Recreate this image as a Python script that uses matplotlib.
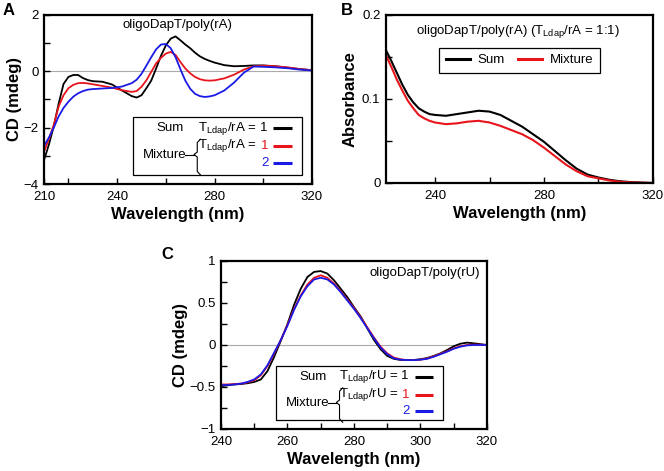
import matplotlib
matplotlib.use('Agg')
import matplotlib.pyplot as plt
import numpy as np
from matplotlib.ticker import FuncFormatter

plt.rcParams['font.family'] = ['Liberation Sans', 'DejaVu Sans']
plt.rcParams['mathtext.fontset'] = 'custom'
plt.rcParams['mathtext.rm'] = 'Liberation Sans'

# ---- panel A: CD, oligoDapT/poly(rA)
wl_a = [210, 212, 214, 216, 218, 220, 222, 224, 226, 228, 230, 234, 238, 242, 246, 248,
        250, 252, 254, 256, 258, 260, 262, 264, 266, 268, 270, 272, 274, 276, 278, 280,
        284, 288, 292, 296, 300, 305, 310, 315, 320]
a_sum = [-3.15, -2.6, -1.95, -1.15, -0.45, -0.2, -0.13, -0.13, -0.24, -0.31, -0.35, -0.37,
         -0.47, -0.68, -0.88, -0.93, -0.85, -0.6, -0.33, 0.1, 0.55, 0.92, 1.16, 1.24, 1.1,
         0.95, 0.82, 0.66, 0.53, 0.44, 0.37, 0.31, 0.22, 0.18, 0.19, 0.21, 0.21, 0.18, 0.13,
         0.08, 0.04]
a_mix1 = [-2.85, -2.4, -1.9, -1.25, -0.85, -0.6, -0.48, -0.42, -0.41, -0.43, -0.46, -0.52,
          -0.58, -0.67, -0.73, -0.7, -0.55, -0.32, -0.02, 0.28, 0.48, 0.63, 0.69, 0.58, 0.33,
          0.1, -0.07, -0.2, -0.28, -0.32, -0.33, -0.32, -0.25, -0.12, 0.06, 0.18, 0.2, 0.18,
          0.14, 0.08, 0.04]
a_mix2 = [-2.65, -2.35, -2.0, -1.6, -1.3, -1.08, -0.9, -0.78, -0.7, -0.65, -0.63, -0.61,
          -0.59, -0.54, -0.42, -0.3, -0.09, 0.2, 0.5, 0.78, 0.95, 0.97, 0.82, 0.5, 0.07,
          -0.33, -0.62, -0.8, -0.88, -0.91, -0.89, -0.85, -0.68, -0.4, -0.05, 0.17, 0.16,
          0.14, 0.11, 0.06, 0.03]

# ---- panel B: absorbance
wl_b = [222, 224, 226, 228, 230, 232, 234, 236, 238, 240, 244, 248, 252, 256, 260, 264,
        268, 272, 276, 280, 284, 288, 292, 296, 300, 304, 308, 312, 316, 320]
b_sum = [0.158, 0.145, 0.131, 0.117, 0.105, 0.096, 0.089, 0.085, 0.082, 0.081, 0.080,
         0.082, 0.084, 0.086, 0.085, 0.081, 0.074, 0.067, 0.058, 0.049, 0.038, 0.027,
         0.017, 0.010, 0.0065, 0.0038, 0.002, 0.001, 0.0004, 0.0]
b_mix = [0.152, 0.138, 0.123, 0.110, 0.098, 0.089, 0.081, 0.077, 0.074, 0.072, 0.070,
         0.071, 0.073, 0.074, 0.072, 0.068, 0.063, 0.058, 0.051, 0.042, 0.032, 0.022,
         0.014, 0.008, 0.0055, 0.003, 0.0015, 0.0008, 0.0003, 0.0]

# ---- panel C: CD, oligoDapT/poly(rU)
wl_c = list(range(240, 322, 2))
c_sum = [-0.49, -0.48, -0.47, -0.465, -0.455, -0.44, -0.41, -0.31, -0.14, 0.05, 0.25, 0.48,
         0.67, 0.81, 0.87, 0.88, 0.85, 0.77, 0.67, 0.57, 0.45, 0.34, 0.2, 0.06, -0.05, -0.13,
         -0.165, -0.178, -0.18, -0.178, -0.17, -0.155, -0.13, -0.1, -0.06, -0.015, 0.015,
         0.028, 0.02, 0.01, 0.0]
c_mix1 = [-0.47, -0.47, -0.465, -0.46, -0.445, -0.42, -0.36, -0.25, -0.1, 0.06, 0.24, 0.43,
          0.59, 0.72, 0.8, 0.83, 0.8, 0.73, 0.64, 0.54, 0.44, 0.33, 0.21, 0.09, -0.02, -0.1,
          -0.15, -0.17, -0.18, -0.18, -0.175, -0.16, -0.135, -0.105, -0.075, -0.04, -0.015,
          0.0, 0.005, 0.003, 0.0]
c_mix2 = [-0.48, -0.475, -0.47, -0.46, -0.44, -0.41, -0.35, -0.24, -0.09, 0.06, 0.23, 0.42,
          0.58, 0.7, 0.78, 0.8, 0.78, 0.72, 0.63, 0.53, 0.43, 0.32, 0.2, 0.08, -0.03, -0.11,
          -0.16, -0.175, -0.18, -0.18, -0.175, -0.165, -0.14, -0.11, -0.08, -0.045, -0.02,
          -0.005, 0.0, 0.0, 0.0]

RED = '#e8141c'
BLUE = '#1a1ae6'
TS = 9.5   # tick / text size
LS = 12    # axis label size


def minus(v, pos):
    return ('%g' % v).replace('-', '\u2212')


def style(ax, xlim, ylim, xmaj, xmin, ymaj, ymin):
    ax.set_xlim(*xlim)
    ax.set_ylim(*ylim)
    ax.set_xticks(xmaj)
    ax.set_xticks(xmin, minor=True)
    ax.set_yticks(ymaj)
    ax.set_yticks(ymin, minor=True)
    ax.yaxis.set_major_formatter(FuncFormatter(minus))
    ax.tick_params(which='both', direction='in', labelsize=TS, width=1)
    ax.tick_params(axis='x', pad=5)
    ax.tick_params(axis='y', pad=4)
    ax.tick_params(which='both', length=4)
    for s in ax.spines.values():
        s.set_linewidth(1.6)
    ax.set_xlabel('Wavelength (nm)', fontsize=LS, fontweight='bold', labelpad=3)


def cd_legend(ax, box, rows, lbl):
    # box: x0, y0, x1, y1 in axes fraction; rows: y positions of the 3 rows
    x0, y0, x1, y1 = box
    ax.add_patch(plt.Rectangle((x0, y0), x1 - x0, y1 - y0, transform=ax.transAxes,
                               fill=True, facecolor='white', edgecolor='black', lw=0.9, zorder=5))
    r1, r2, r3 = rows
    xt = x0 + 0.80 * (x1 - x0)   # right edge of row text
    xl0, xl1 = x0 + 0.83 * (x1 - x0), x0 + 0.94 * (x1 - x0)
    kw = dict(xycoords='axes fraction', textcoords='offset points', fontsize=TS,
              va='center', ha='right', zorder=6)
    ax.annotate('Sum', (x0 + 0.22 * (x1 - x0), r1), xytext=(0, 0),
                **dict(kw, ha='center'))
    pre = 'T$_{\\mathregular{Ldap}}$/' + lbl + ' ='
    ax.annotate(pre + ' 1', (xt, r1), xytext=(0, 0), **kw)
    ax.annotate(pre, (xt, r2), xytext=(-8, 0), **kw)
    ax.annotate('1', (xt, r2), xytext=(0, 0), color=RED, **kw)
    ax.annotate('2', (xt, r3), xytext=(0, 0), color=BLUE, **kw)
    for y, c in zip(rows, ['black', RED, BLUE]):
        ax.plot([xl0, xl1], [y, y], color=c, lw=2.2, transform=ax.transAxes, zorder=6,
                solid_capstyle='butt')
    mid = (r2 + r3) / 2
    ax.annotate('Mixture', (x0 + 0.19 * (x1 - x0), mid), xytext=(0, 0),
                **dict(kw, ha='center'))
    xb = x0 + 0.38 * (x1 - x0)
    d = 0.012
    top, bot = r2 + 0.03, r3 - 0.06
    ax.plot([xb + d, xb, xb, xb - d, xb, xb, xb + d],
            [top + 0.01, top - 0.01, mid + 0.015, mid, mid - 0.015, bot + 0.01, bot - 0.01],
            color='black', lw=0.8, transform=ax.transAxes, zorder=6)
    ax.plot([xb - 0.045, xb - d], [mid, mid], color='black', lw=0.8,
            transform=ax.transAxes, zorder=6)


fig = plt.figure(figsize=(6.64, 4.71), dpi=100)

# panel A
axA = fig.add_axes([0.0663, 0.6093, 0.4036, 0.3589])
axA.axhline(0, color='#aaaaaa', lw=0.8, zorder=1)
axA.plot(wl_a, a_sum, color='black', lw=1.3)
axA.plot(wl_a, a_mix1, color=RED, lw=1.3)
axA.plot(wl_a, a_mix2, color=BLUE, lw=1.3)
style(axA, (210, 320), (-4, 2), [210, 240, 280, 320], [220, 260, 300],
      [-4, -2, 0, 2], [-3, -1, 1])
axA.set_ylabel('CD (mdeg)', fontsize=LS, fontweight='bold', labelpad=1)
axA.text(0.496, 0.94, 'oligoDapT/poly(rA)', transform=axA.transAxes, fontsize=TS,
         ha='center', va='center')
cd_legend(axA, (0.332, 0.053, 0.963, 0.396), (0.331, 0.225, 0.124), 'rA')

# panel B
axB = fig.add_axes([0.5813, 0.6115, 0.4021, 0.3567])
axB.plot(wl_b, b_sum, color='black', lw=1.5, label='Sum')
axB.plot(wl_b, b_mix, color=RED, lw=1.5, label='Mixture')
style(axB, (222, 320), (0, 0.2), [240, 280, 320], [260, 300], [0, 0.1, 0.2], [0.05, 0.15])
axB.set_ylabel('Absorbance', fontsize=LS, fontweight='bold', labelpad=3)
axB.text(0.494, 0.9, 'oligoDapT/poly(rA) (T$_{\\mathregular{Ldap}}$/rA = 1:1)',
         transform=axB.transAxes, fontsize=TS, ha='center', va='center')
leg = axB.legend(ncol=2, loc='center', bbox_to_anchor=(0.5, 0.73), fontsize=TS,
                 fancybox=False, edgecolor='black', framealpha=1, handlelength=1.8,
                 columnspacing=1.0, borderpad=0.5, handletextpad=0.6)
leg.get_frame().set_linewidth(0.9)
for h in leg.get_lines():
    h.set_linewidth(2.2)

# panel C
axC = fig.add_axes([0.3328, 0.0892, 0.4006, 0.3567])
axC.axhline(0, color='#aaaaaa', lw=0.8, zorder=1)
axC.plot(wl_c, c_sum, color='black', lw=1.3)
axC.plot(wl_c, c_mix1, color=RED, lw=1.3)
axC.plot(wl_c, c_mix2, color=BLUE, lw=1.3)
style(axC, (240, 320), (-1, 1), [240, 260, 280, 300, 320], [250, 270, 290, 310],
      [-1, -0.5, 0, 0.5, 1], [-0.75, -0.25, 0.25, 0.75])
axC.set_ylabel('CD (mdeg)', fontsize=LS, fontweight='bold', labelpad=1)
axC.text(0.974, 0.93, 'oligoDapT/poly(rU)', transform=axC.transAxes, fontsize=TS,
         ha='right', va='center')
cd_legend(axC, (0.207, 0.054, 0.835, 0.375), (0.31, 0.205, 0.11), 'rU')

# panel letters
fig.text(0.004, 0.978, 'A', fontsize=12, fontweight='bold', va='center', ha='left')
fig.text(0.514, 0.978, 'B', fontsize=12, fontweight='bold', va='center', ha='left')
fig.text(0.243, 0.459, 'C', fontsize=12, fontweight='bold', va='center', ha='left')

fig.savefig('out.png', dpi=100)
